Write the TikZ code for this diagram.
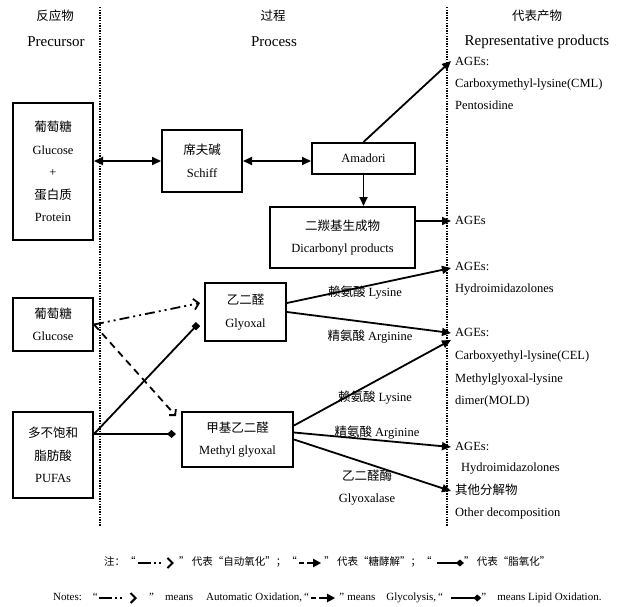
\documentclass[tikz,border=0pt]{standalone}
\usepackage{fontspec}
\setmainfont{Liberation Serif}
\newfontfamily\cjk{Noto Sans CJK SC}
\usetikzlibrary{arrows.meta,calc}
\newcommand\bodyfont{\fontsize{12.5}{22.5}\selectfont}
\newcommand\headfont{\fontsize{15}{18}\selectfont}
\newcommand\notefont{\fontsize{10.5}{12}\selectfont}
\newcommand\notefontb{\fontsize{11}{12}\selectfont}
\begin{document}
\begin{tikzpicture}[x=1pt,y=-1pt,
  box/.style={draw,line width=2pt,align=center,font=\bodyfont,inner sep=0pt},
  txt/.style={inner sep=0pt,font=\bodyfont,text height=9pt,text depth=3pt},
  head/.style={inner sep=0pt,font=\headfont},
  headc/.style={inner sep=0pt,font=\bodyfont\cjk},
  nt/.style={inner sep=0pt,font=\notefont,text height=7.5pt,text depth=2.5pt,anchor=west},
  ntb/.style={nt,font=\notefontb},
  sepline/.style={line width=2pt,dash pattern=on 1.4pt off 1.2pt},
  conn/.style={line width=1.8pt},
  tip/.style={-{Triangle[length=9pt,width=8pt]}},
  dtip/.style={{Triangle[length=9pt,width=8pt]}-{Triangle[length=9pt,width=8pt]}},
  autoox/.style={line width=1.8pt,dash pattern=on 10pt off 4pt on 2pt off 4pt on 2pt off 4pt,-{Straight Barb[length=5pt,width=11pt,line width=1.8pt]}},
  glyco/.style={line width=1.8pt,dash pattern=on 7pt off 5pt,-{Straight Barb[length=4pt,width=9pt,line width=1.8pt]}},
  lipsq/.style={line width=1.8pt,-{Square[length=6pt,width=6pt]}},
  lipdi/.style={line width=1.8pt,-{Diamond[length=9pt,width=8pt]}},
  autooxs/.style={line width=2pt,dash pattern=on 13pt off 3pt on 2pt off 3pt on 2pt off 30pt,-{Straight Barb[length=5pt,width=10pt,line width=2pt]}},
  glycos/.style={line width=2.2pt,dash pattern=on 5pt off 3pt on 30pt,-{Triangle[length=8pt,width=8pt]}},
  lipds/.style={line width=1.8pt,-{Diamond[length=8pt,width=7pt]}},
]
\useasboundingbox (0,0) rectangle (622,606);

% headers
\node[headc] (h1c) at (55,16) {反应物};
\node[head]  (h1e) at (56,42) {Precursor};
\node[headc] (h2c) at (273,16) {过程};
\node[head]  (h2e) at (274,42) {Process};
\node[headc] (h3c) at (537,16) {代表产物};
\node[head]  (h3e) at (537,42) {Representative products};

% separators
\coordinate (s1t) at (100,7);
\coordinate (s1b) at (100,526);
\coordinate (s2t) at (447,7);
\coordinate (s2b) at (447,526);
\draw[sepline] (s1t) -- (s1b);
\draw[sepline] (s2t) -- (s2b);

% boxes
\node[box,minimum width=80pt,minimum height=137pt] (gp) at (53,171.5)
  {{\cjk 葡萄糖}\\Glucose\\+\\{\cjk 蛋白质}\\Protein};
\node[box,minimum width=80pt,minimum height=62pt] (sch) at (202,161)
  {{\cjk 席夫碱}\\Schiff};
\node[box,minimum width=103pt,minimum height=31pt] (am) at (363.5,158.5) {Amadori};
\node[box,minimum width=145pt,minimum height=61pt] (dc) at (342.5,237.5)
  {{\cjk 二羰基生成物}\\Dicarbonyl products};
\node[box,minimum width=80pt,minimum height=53pt] (g2) at (53,324.5)
  {{\cjk 葡萄糖}\\Glucose};
\node[box,minimum width=80pt,minimum height=86pt] (pu) at (53,455)
  {{\cjk 多不饱和}\\{\cjk 脂肪酸}\\PUFAs};
\node[box,minimum width=81pt,minimum height=58pt] (gx) at (245.5,312)
  {{\cjk 乙二醛}\\Glyoxal};
\node[box,minimum width=111pt,minimum height=55pt] (mg) at (237.5,439.5)
  {{\cjk 甲基乙二醛}\\Methyl glyoxal};

% right column texts
\node[txt,anchor=west] (r1a) at (455,62) {AGEs:};
\node[txt,anchor=west] (r1b) at (455,84) {Carboxymethyl-lysine(CML)};
\node[txt,anchor=west] (r1c) at (455,106) {Pentosidine};
\node[txt,anchor=west] (r2a) at (455,221) {AGEs};
\node[txt,anchor=west] (r3a) at (455,267) {AGEs:};
\node[txt,anchor=west] (r3b) at (455,289) {Hydroimidazolones};
\node[txt,anchor=west] (r4a) at (455,333) {AGEs:};
\node[txt,anchor=west] (r4b) at (455,356) {Carboxyethyl-lysine(CEL)};
\node[txt,anchor=west] (r4c) at (455,379) {Methylglyoxal-lysine};
\node[txt,anchor=west] (r4d) at (455,401) {dimer(MOLD)};
\node[txt,anchor=west] (r5a) at (455,447) {AGEs:};
\node[txt,anchor=west] (r5b) at (461,468) {Hydroimidazolones};
\node[txt,anchor=west] (r5c) at (455,491) {\cjk 其他分解物};
\node[txt,anchor=west] (r5d) at (455,513) {Other decomposition};

% arrow tips at the products line
\coordinate (tA) at (451,61);
\coordinate (tB) at (451,221);
\coordinate (tC) at (451,268);
\coordinate (tD) at (451,333);
\coordinate (tE) at (451,340);
\coordinate (tF) at (451,447);
\coordinate (tG) at (451,491);

% connectors
\draw[conn,dtip] (gp.east |- sch.west) -- (sch.west);
\draw[conn,dtip] (sch.east) -- (sch.east -| am.west);
\draw[conn,tip] (am.north) -- (tA);
\draw[conn,tip] (am.south) -- (am.south |- dc.north);
\draw[conn,tip] (tB -| dc.east) -- (tB);
\draw[conn,tip] ($(gx.east)+(0,-9)$) -- (tC);
\draw[conn,tip] (gx.east) -- (tD);
\draw[conn,tip] ($(mg.east)+(0,-14)$) -- (tE);
\draw[conn,tip] ($(mg.east)+(0,-7)$) -- (tF);
\draw[conn,tip] (mg.east) -- (tG);

\draw[autoox] (g2.east) -- ($(gx.west)+(-4,-9)$);
\draw[glyco] (g2.east) -- ($(mg.north west)+(-5,5)$);
\coordinate (pus) at ($(pu.east)+(0,-21)$);
\draw[lipsq] (pus) -- ($(gx.west)+(-6,12)$);
\draw[lipdi] (pus) -- ($(pus -| mg.west)+(-5,0)$);

% labels on connectors
\node[txt] (l1) at (365,293) {{\cjk 赖氨酸} Lysine};
\node[txt] (l2) at (370,337) {{\cjk 精氨酸} Arginine};
\node[txt] (l3) at (375,398) {{\cjk 赖氨酸} Lysine};
\node[txt] (l4) at (377,433) {{\cjk 精氨酸} Arginine};
\node[txt] (l5) at (367,477) {\cjk 乙二醛酶};
\node[txt] (l6) at (367,499) {Glyoxalase};

% note 1
\node[nt] (n1a) at (104,563) {\cjk 注：“};
\coordinate (n1s1) at ($(n1a.east)+(2,0)$);
\coordinate (n1e1) at ($(n1s1)+(36,0)$);
\draw[autooxs] (n1s1) -- (n1e1);
\node[nt] (n1b) at ($(n1e1)+(5,0)$) {\cjk ” 代表“自动氧化”；“};
\coordinate (n1s2) at ($(n1b.east)+(2,0)$);
\coordinate (n1e2) at ($(n1s2)+(22,0)$);
\draw[glycos] (n1s2) -- (n1e2);
\node[nt] (n1c) at ($(n1e2)+(3,0)$) {\cjk ” 代表“糖酵解”；“};
\coordinate (n1s3) at ($(n1c.east)+(5,0)$);
\coordinate (n1e3) at ($(n1s3)+(27,0)$);
\draw[lipds] (n1s3) -- (n1e3);
\node[nt] (n1d) at ($(n1e3)+(0,0)$) {\cjk ” 代表“脂氧化”};

% note 2
\node[ntb] (n2a) at (53,598) {Notes:\hspace{11pt}“};
\coordinate (n2s1) at ($(n2a.east)+(1,0)$);
\coordinate (n2e1) at ($(n2s1)+(38,0)$);
\draw[autooxs] (n2s1) -- (n2e1);
\node[ntb] (n2b) at ($(n2e1)+(12,0)$) {”\hspace{11pt}means\hspace{13pt}Automatic Oxidation,\hspace{2pt}“};
\coordinate (n2s2) at ($(n2b.east)+(2,0)$);
\coordinate (n2e2) at ($(n2s2)+(24,0)$);
\draw[glycos] (n2s2) -- (n2e2);
\node[ntb] (n2c) at ($(n2e2)+(4,0)$) {”\hspace{3pt}means\hspace{11pt}Glycolysis,\hspace{2pt}“};
\coordinate (n2s3) at ($(n2c.east)+(8,0)$);
\coordinate (n2e3) at ($(n2s3)+(30,0)$);
\draw[lipds] (n2s3) -- (n2e3);
\node[ntb] (n2d) at ($(n2e3)+(0,0)$) {”\hspace{11pt}means Lipid Oxidation.};
\end{tikzpicture}
\end{document}
